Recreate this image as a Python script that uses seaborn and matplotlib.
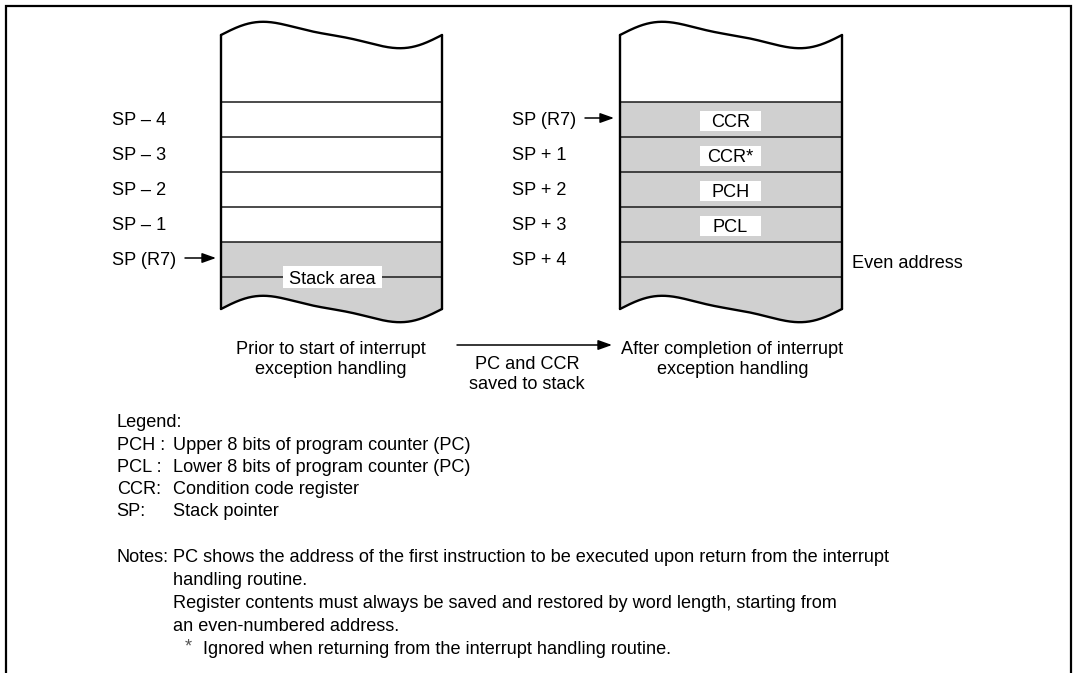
import numpy as np
import matplotlib
matplotlib.use("Agg")
import matplotlib.pyplot as plt
from matplotlib.patches import Polygon, Rectangle
import seaborn as sns

# ---------------- data (text content of the diagram) ----------------
left_labels = ["SP \u2013 4", "SP \u2013 3", "SP \u2013 2", "SP \u2013 1", "SP (R7)"]
right_labels = ["SP (R7)", "SP + 1", "SP + 2", "SP + 3", "SP + 4"]
right_contents = ["CCR", "CCR*", "PCH", "PCL"]
left_caption = ["Prior to start of interrupt", "exception handling"]
right_caption = ["After completion of interrupt", "exception handling"]
mid_caption = ["PC and CCR", "saved to stack"]
legend_keys = ["PCH :", "PCL :", "CCR:", "SP:"]
legend_desc = ["Upper 8 bits of program counter (PC)",
               "Lower 8 bits of program counter (PC)",
               "Condition code register",
               "Stack pointer"]
notes_lines = ["PC shows the address of the first instruction to be executed upon return from the interrupt",
               "handling routine.",
               "Register contents must always be saved and restored by word length, starting from",
               "an even-numbered address."]
footnote = "Ignored when returning from the interrupt handling routine."

# ---------------- style ----------------
sns.set_theme(style="white")
plt.rcParams["font.family"] = ["Liberation Sans", "DejaVu Sans"]

W, H = 1076, 673
fig = plt.figure(figsize=(W / 100, H / 100), dpi=100)
ax = fig.add_axes([0, 0, 1, 1])
ax.set_xlim(0, W)
ax.set_ylim(H, 0)
ax.axis("off")

FS = 13.1
CAP = 0.36 * FS * 100 / 72  # half cap height in px
GRAY = "#d0d0d0"


def txt(x, y, s, ha="left", **kw):
    ax.text(x, y + CAP, s, ha=ha, va="baseline", fontsize=FS, color="black", **kw)


def arrow(x0, x1, y):
    ax.annotate("", xy=(x1, y), xytext=(x0, y),
                arrowprops=dict(arrowstyle="-|>,head_length=0.7,head_width=0.25",
                                color="black", lw=1.1, shrinkA=0, shrinkB=0,
                                mutation_scale=12))


# outer frame (top, left, right)
ax.plot([6, 6, 1071, 1071], [H, 6, 6, H], color="black", lw=1.6, solid_joinstyle="miter")

# stack geometry
TOP, BOT = 35, 309
ROW0, ROWH = 102, 35
row_lines = [ROW0 + ROWH * i for i in range(6)]
t = np.linspace(0, 1, 300)
wave = -12 * np.sin(2 * np.pi * t) - 3 * np.sin(4 * np.pi * t)


def stack(x0, x1, gray_from):
    xs = x0 + (x1 - x0) * t
    top = TOP + wave
    bot = BOT + wave
    verts = [(x0, gray_from), (x1, gray_from)] + list(zip(xs[::-1], bot[::-1]))
    ax.add_patch(Polygon(verts, closed=True, fc=GRAY, ec="none", zorder=1))
    for y in row_lines:
        ax.plot([x0, x1], [y, y], color="#1a1a1a", lw=1.1, zorder=2)
    ax.plot(xs, top, color="black", lw=1.7, zorder=3)
    ax.plot(xs, bot, color="black", lw=1.7, zorder=3)
    ax.plot([x0, x0], [TOP, BOT], color="black", lw=1.7, zorder=3)
    ax.plot([x1, x1], [TOP, BOT], color="black", lw=1.7, zorder=3)


# ---------------- left stack ----------------
LX0, LX1 = 221, 442
stack(LX0, LX1, row_lines[4])
for i, lab in enumerate(left_labels):
    yc = ROW0 + ROWH * i + ROWH / 2 - 1
    txt(112, yc, lab)
arrow(185, 216, row_lines[4] + ROWH / 2 - 1.5)
ax.add_patch(Rectangle((283, 266), 99, 22, fc="white", ec="none", zorder=4))
txt((LX0 + LX1) / 2 + 0.5, 277, "Stack area", ha="center", zorder=5)

for i, s in enumerate(left_caption):
    txt(331, 347 + 20 * i, s, ha="center")

# ---------------- right stack ----------------
RX0, RX1 = 620, 842
stack(RX0, RX1, row_lines[0])
for i, lab in enumerate(right_labels):
    yc = ROW0 + ROWH * i + ROWH / 2 - 1
    txt(512, yc, lab)
arrow(585, 614, row_lines[0] + ROWH / 2 - 1.5)
for i, s in enumerate(right_contents):
    yc = ROW0 + ROWH * i + ROWH / 2 + 1
    ax.add_patch(Rectangle((700, yc - 10), 61, 20, fc="white", ec="none", zorder=4))
    txt(730.5, yc, s, ha="center", zorder=5)
txt(852, 261, "Even address")

for i, s in enumerate(right_caption):
    txt(732.5, 347.5 + 20 * i, s, ha="center")

# ---------------- middle transition ----------------
arrow(457, 612, 345)
for i, s in enumerate(mid_caption):
    txt(527, 362 + 20 * i, s, ha="center")

# ---------------- legend ----------------
txt(116.7, 420, "Legend:")
for i, (k, d) in enumerate(zip(legend_keys, legend_desc)):
    y = 443 + 22.2 * i
    txt(116.7, y, k)
    txt(173.3, y, d)

# ---------------- notes ----------------
txt(116.7, 555, "Notes:")
for i, s in enumerate(notes_lines):
    txt(173.3, 555 + 23 * i, s)
ax.text(185, 647 + CAP - 2, "*", ha="left", va="baseline", fontsize=FS, color="#555555")
txt(203, 647, footnote)

fig.savefig("out.png", dpi=100, facecolor="white")
